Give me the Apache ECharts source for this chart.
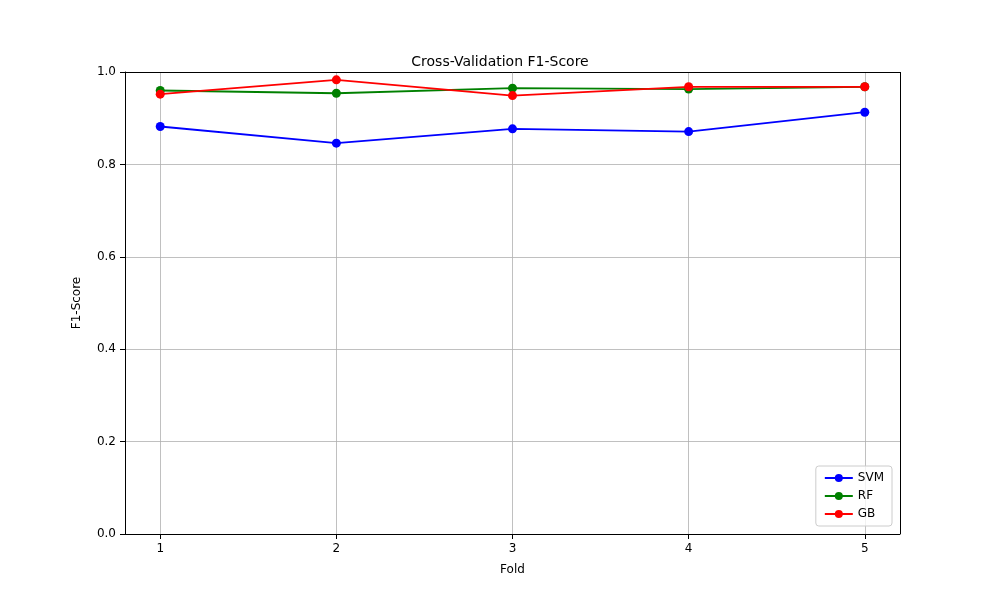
<!DOCTYPE html>
<html>
<head>
<meta charset="utf-8">
<script src="https://cdn.jsdelivr.net/npm/echarts@6/dist/echarts.min.js"></script>
<style>html,body{margin:0;padding:0;background:#fff}#chart{width:1000px;height:600px}</style>
</head>
<body>
<div id="chart"></div>
<script>
var folds = [1, 2, 3, 4, 5];
var yTicks = [0, 0.2, 0.4, 0.6, 0.8, 1.0];
var svm = [0.882, 0.846, 0.877, 0.871, 0.913];
var rf = [0.960, 0.954, 0.965, 0.963, 0.968];
var gb = [0.952, 0.983, 0.949, 0.968, 0.968];

var font = 'DejaVu Sans';

function makeSeries(name, color, values, extra) {
    var s = {
        name: name,
        type: 'line',
        data: values.map(function (v, i) { return [folds[i], v]; }),
        symbol: 'circle',
        symbolSize: 9,
        lineStyle: { color: color, width: 1.8 },
        itemStyle: { color: color },
        z: 3
    };
    if (extra) {
        s.markLine = extra;
    }
    return s;
}

var chart = echarts.init(document.getElementById('chart'), null, { renderer: 'canvas' });
chart.setOption({
    animation: false,
    textStyle: { fontFamily: font },
    title: {
        text: 'Cross-Validation F1-Score',
        left: 'center',
        top: 50,
        textStyle: { fontFamily: font, fontSize: 14, fontWeight: 'normal', color: '#000' }
    },
    grid: { left: 125, right: 100, top: 72, bottom: 66, containLabel: false },
    legend: {
        orient: 'vertical',
        right: 108,
        bottom: 74,
        itemWidth: 28,
        itemHeight: 10,
        itemGap: 6,
        padding: [6, 8, 6, 8],
        borderColor: '#ccc',
        borderWidth: 1,
        borderRadius: 3,
        backgroundColor: 'rgba(255,255,255,0.8)',
        textStyle: { fontFamily: font, fontSize: 12, color: '#000' },
        data: ['SVM', 'RF', 'GB']
    },
    xAxis: {
        type: 'value',
        min: 0.8,
        max: 5.2,
        name: 'Fold',
        nameLocation: 'middle',
        nameGap: 30,
        nameTextStyle: { fontFamily: font, fontSize: 12, color: '#000' },
        axisLine: { lineStyle: { color: '#000' } },
        axisTick: { customValues: folds, length: 5, lineStyle: { color: '#000' } },
        axisLabel: { customValues: folds, color: '#000', fontSize: 12, margin: 9 },
        splitLine: { show: false }
    },
    yAxis: {
        type: 'value',
        min: 0,
        max: 1,
        interval: 0.2,
        name: 'F1-Score',
        nameLocation: 'middle',
        nameGap: 42,
        nameTextStyle: { fontFamily: font, fontSize: 12, color: '#000' },
        axisLine: { show: true, lineStyle: { color: '#000' } },
        axisTick: { show: true, length: 5, lineStyle: { color: '#000' } },
        axisLabel: {
            color: '#000', fontSize: 12, margin: 9,
            formatter: function (v) { return v.toFixed(1); }
        },
        splitLine: { show: true, lineStyle: { color: '#b0b0b0', width: 0.8 } }
    },
    series: [
        makeSeries('SVM', '#0000ff', svm, {
            silent: true,
            symbol: 'none',
            label: { show: false },
            lineStyle: { color: '#b0b0b0', width: 0.8, type: 'solid' },
            data: folds.map(function (f) { return { xAxis: f }; }),
            z: 1
        }),
        makeSeries('RF', '#008000', rf),
        makeSeries('GB', '#ff0000', gb),
        {
            type: 'line',
            silent: true,
            data: [],
            markLine: {
                silent: true, symbol: 'none', label: { show: false },
                lineStyle: { color: '#000', width: 1, type: 'solid' },
                data: [{ yAxis: 1 }, [{ coord: [5.2, 0] }, { coord: [5.2, 1] }]]
            }
        }
    ]
});
</script>
</body>
</html>
